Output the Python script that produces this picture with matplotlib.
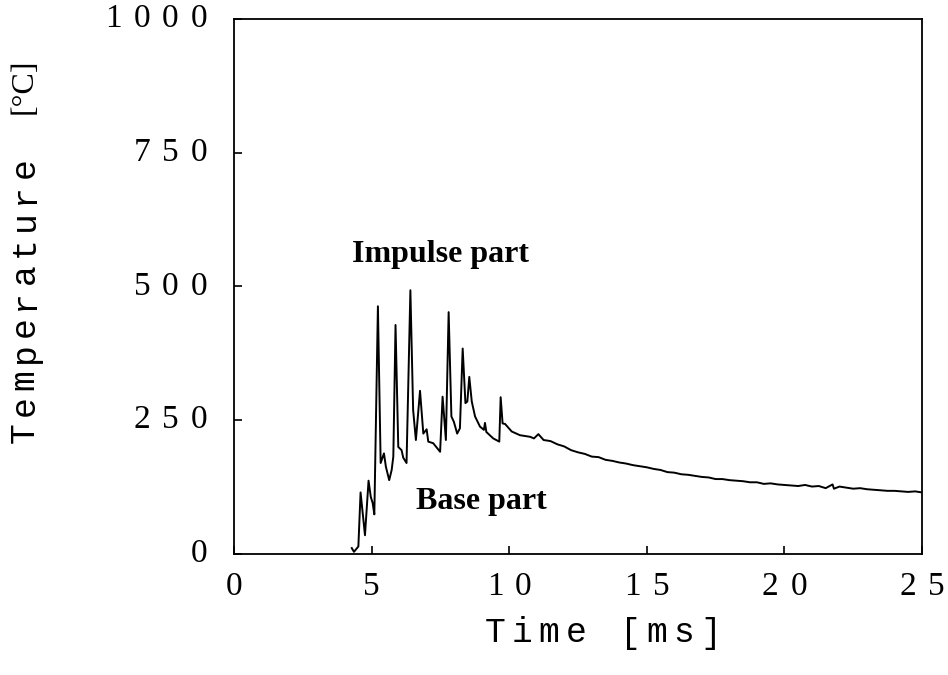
import matplotlib
matplotlib.use("Agg")
import matplotlib.pyplot as plt
from matplotlib.transforms import offset_copy

# temperature trace (time in ms, temperature in degC)
time_ms = [4.28, 4.36, 4.52, 4.60, 4.76, 4.89, 4.97, 5.04, 5.10, 5.23,
           5.33, 5.45, 5.52, 5.64, 5.73, 5.79, 5.87, 5.97, 6.09, 6.15,
           6.27, 6.41, 6.51, 6.61, 6.76, 6.88, 7.00, 7.06, 7.24, 7.49,
           7.58, 7.70, 7.80, 7.90, 7.99, 8.11, 8.21, 8.31, 8.41, 8.48,
           8.55, 8.64, 8.76, 8.94, 9.08, 9.12, 9.17, 9.42, 9.64, 9.69,
           9.76, 9.85, 10.09, 10.39, 10.76, 10.90, 11.06, 11.25, 11.50, 11.75,
           12.00, 12.25, 12.50, 12.75, 13.00, 13.25, 13.50, 13.75, 14.00, 14.25,
           14.50, 14.75, 15.00, 15.25, 15.50, 15.75, 16.00, 16.25, 16.50, 16.75,
           17.00, 17.25, 17.50, 17.75, 18.00, 18.25, 18.50, 18.75, 19.00, 19.25,
           19.50, 19.75, 20.00, 20.25, 20.50, 20.75, 21.00, 21.25, 21.50, 21.75,
           21.80, 22.00, 22.25, 22.50, 22.75, 23.00, 23.25, 23.50, 23.75, 24.00,
           24.25, 24.50, 24.75, 25.00]
temp_c = [11, 4, 14, 115, 35, 137, 107, 95, 74, 463,
          170, 188, 163, 138, 157, 182, 428, 200, 194, 180,
          170, 493, 269, 213, 305, 225, 233, 210, 207, 191,
          294, 213, 452, 257, 247, 225, 235, 384, 282, 285,
          331, 285, 257, 238, 232, 245, 228, 216, 210, 293,
          244, 243, 229, 222, 219, 216, 224, 213, 211, 205,
          201, 194, 190, 187, 182, 181, 176, 174, 171, 169,
          166, 164, 162, 159, 157, 153, 152, 149, 148, 146,
          144, 143, 140, 140, 138, 137, 136, 134, 134, 131,
          132, 130, 129, 128, 127, 129, 126, 127, 123, 130,
          122, 126, 124, 122, 123, 121, 120, 119, 118, 118,
          117, 116, 117, 115]

x_ticks = [0, 5, 10, 15, 20, 25]
y_ticks = [0, 250, 500, 750, 1000]

mono = "Liberation Mono"
serif = "Liberation Serif"

fig = plt.figure(figsize=(9.48, 6.75), dpi=100)
ax = fig.add_axes([0.2468, 0.1793, 0.7258, 0.7926])


def spaced_text(x, y, s, transform, pitch, vertical=False, anchor="center", **kw):
    # draw a string one glyph at a time, glyph centres `pitch` pixels apart
    n = len(s)
    first = -(n - 1) / 2 * pitch if anchor == "center" else -(n - 1) * pitch
    for i, ch in enumerate(s):
        if ch == " ":
            continue
        d = first + i * pitch
        dx, dy = (0, d) if vertical else (d, 0)
        tr = offset_copy(transform, fig=fig, x=dx, y=dy, units="dots")
        fig.text(x, y, ch, transform=tr, ha="center", va="center",
                 rotation=90 if vertical else 0, **kw)


ax.plot(time_ms, temp_c, color="black", linewidth=1.4)

ax.set_xlim(0, 25)
ax.set_ylim(0, 1000)
ax.set_xticks(x_ticks)
ax.set_yticks(y_ticks)
ax.set_xticklabels([])
ax.set_yticklabels([])
ax.tick_params(direction="in", length=6, width=1.2)
for s in ax.spines.values():
    s.set_linewidth(1.3)

# tick labels, spaced like the original
for t in x_ticks:
    tr = offset_copy(ax.get_xaxis_transform(), fig=fig, x=0, y=-33, units="dots")
    spaced_text(t, 0, str(t), tr, 28.5, family=serif, fontsize=24)
for t in y_ticks:
    tr = offset_copy(ax.get_yaxis_transform(), fig=fig, x=-35, y=0, units="dots")
    spaced_text(0, t, str(t), tr, 28.5, anchor="right", family=serif, fontsize=24)

# axis titles
spaced_text(603 / 948, 1 - 633 / 675, "Time [ms]", fig.transFigure, 27,
            family=mono, fontsize=25)
spaced_text(24 / 948, 1 - 300 / 675, "Temperature", fig.transFigure, 26.5,
            vertical=True, family=mono, fontsize=25)
fig.text(24 / 948, 1 - 86 / 675, "[°C]", family=serif, fontsize=23,
         rotation=90, ha="center", va="center")

ax.text(7.52, 546, "Impulse part", family=serif, fontweight="bold",
        fontsize=23, ha="center", va="baseline")
ax.text(8.99, 84, "Base part", family=serif, fontweight="bold",
        fontsize=23, ha="center", va="baseline")

fig.savefig("out.png", dpi=100)
